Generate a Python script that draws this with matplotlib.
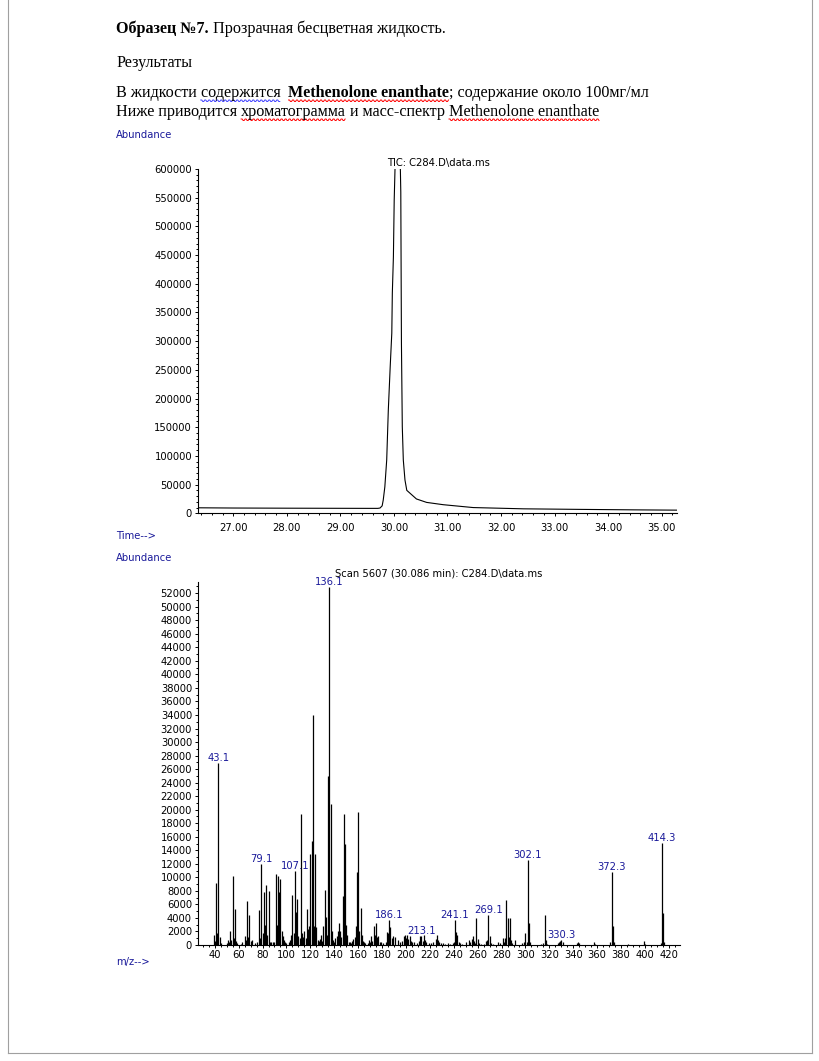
import numpy as np
import matplotlib
matplotlib.use("Agg")
import matplotlib.pyplot as plt
from matplotlib.ticker import MultipleLocator, FormatStrFormatter

W, H = 820, 1061

# хроматограмма (TIC), время в минутах
tic_time = [26.34, 27.0, 28.0, 29.0, 29.5, 29.70, 29.74, 29.78, 29.80, 29.83, 29.865, 29.895,
            29.93, 29.96, 29.97, 29.99, 30.005, 30.02, 30.07, 30.12, 30.128, 30.14, 30.156,
            30.175, 30.206, 30.24, 30.42, 30.61, 30.92, 31.48, 32.42, 33.5, 34.5, 35.28]
tic_abund = [9600, 9200, 8900, 8700, 8600, 8600, 9200, 13000, 23000, 46000, 93000, 180000,
             255000, 314000, 384000, 447000, 546000, 600000, 660000, 600000, 560000, 296800, 151000,
             92900, 58000, 40000, 25000, 19000, 15000, 10000, 7800, 6800, 6000, 5500]

# масс-спектр
mz = [39, 40, 41, 42, 43, 44, 45, 50, 51, 52, 53, 54, 55, 56, 57, 58, 59, 62, 63, 65,
      66, 67, 68, 69, 70, 71, 74, 75, 77, 78, 79, 80, 81, 82, 83, 84, 85, 86, 87, 89,
      90, 91, 92, 93, 94, 95, 96, 97, 98, 99, 100, 102, 103, 104, 105, 106, 107, 108, 109, 110,
      111, 112, 113, 114, 115, 116, 117, 118, 119, 120, 121, 122, 123, 124, 125, 126, 127, 128, 129, 130,
      131, 132, 133, 134, 135, 136, 137, 138, 139, 140, 141, 142, 143, 144, 145, 146, 147, 148, 149, 150,
      151, 152, 153, 154, 155, 156, 157, 158, 159, 160, 161, 162, 163, 164, 165, 166, 168, 169, 170, 171,
      172, 173, 174, 175, 176, 177, 178, 179, 181, 183, 184, 185, 186, 187, 188, 189, 191, 193, 195, 197,
      198, 199, 200, 201, 202, 203, 204, 205, 207, 209, 211, 212, 213, 214, 215, 216, 217, 219, 221, 223,
      225, 226, 227, 228, 229, 231, 233, 235, 237, 239, 240, 241, 242, 243, 244, 245, 247, 250, 253, 254,
      255, 256, 257, 258, 259, 260, 261, 263, 265, 267, 268, 269, 270, 271, 273, 277, 279, 281, 282, 283,
      284, 285, 286, 287, 288, 289, 291, 297, 299, 300, 301, 302, 303, 304, 313, 315, 316, 317, 318, 327,
      328, 329, 330, 331, 343, 344, 345, 357, 358, 371, 372, 373, 374, 386, 399, 400, 413, 414, 415, 416]
abund = [1500, 600, 9200, 1700, 26900, 1200, 300, 300, 700, 400, 2000, 700, 10200, 1000, 5300, 600, 300, 200, 500, 1300,
         700, 6500, 1200, 4400, 600, 800, 300, 500, 5200, 1000, 12000, 1800, 7800, 2900, 8900, 1500, 8000, 500, 400, 400,
         500, 10500, 3000, 10200, 7900, 9800, 2000, 1400, 800, 400, 300, 500, 700, 1500, 7400, 1800, 10900, 4900, 6800, 1300,
         1100, 19400, 1700, 1200, 2000, 1000, 5300, 2300, 2800, 13500, 15300, 34000, 2800, 13400, 2700, 800, 600, 900, 1500, 600,
         2800, 8200, 4100, 1500, 25000, 52900, 20800, 2100, 800, 500, 1000, 1300, 2000, 3300, 2000, 1200, 7300, 19400, 15000, 3000,
         1500, 500, 400, 300, 600, 900, 1200, 2800, 10800, 19600, 2000, 5400, 1500, 600, 500, 300, 300, 800, 400, 1300,
         600, 2800, 1500, 3200, 1200, 1300, 500, 400, 300, 500, 1900, 1800, 3700, 2600, 1000, 1300, 1200, 700, 400, 600,
         1300, 1500, 1000, 1500, 900, 1400, 600, 400, 500, 300, 600, 1300, 1300, 600, 1500, 700, 500, 300, 300, 500,
         900, 1500, 800, 500, 300, 300, 200, 300, 200, 300, 500, 3700, 1900, 1500, 500, 300, 200, 400, 700, 400,
         900, 1300, 600, 300, 4000, 900, 300, 200, 200, 600, 700, 4400, 1300, 300, 200, 400, 300, 1000, 400, 1100,
         6700, 4000, 1200, 4000, 700, 300, 800, 300, 400, 1700, 500, 12600, 3200, 500, 200, 300, 4500, 700, 200, 300,
         400, 600, 800, 500, 300, 500, 300, 500, 200, 500, 10800, 2800, 400, 200, 600, 200, 300, 15100, 4800, 500]

label_mz = [43, 79, 107, 136, 186, 213, 241, 269, 302, 330, 372, 414]
label_txt = ["43.1", "79.1", "107.1", "136.1", "186.1", "213.1", "241.1", "269.1",
             "302.1", "330.3", "372.3", "414.3"]

BLUE = "#1a1a9a"
CS_FONT = "DejaVu Sans"
CS_SIZE = 7.2

fig = plt.figure(figsize=(W / 100, H / 100), dpi=100)
fig.patch.set_facecolor("white")


def fx(x):
    return x / W


def fy(y):
    return 1 - y / H


# рамка страницы
for (x0, y0, x1, y1) in [(8, 0, 8, 1053), (812, 0, 812, 1053), (8, 1053, 812, 1053)]:
    fig.add_artist(plt.Line2D([fx(x0), fx(x1)], [fy(y0), fy(y1)], color="#a0a0a0", lw=0.8))

renderer = fig.canvas.get_renderer()


def text_width(s, weight, size):
    t = fig.text(0, 0, s, fontsize=size, fontweight=weight, family="Liberation Serif")
    w = t.get_window_extent(renderer).width
    t.remove()
    return w


def wave(x0, x1, y, color):
    xs = np.arange(x0, x1 + 0.1, 1.0)
    ys = y + np.where(np.arange(len(xs)) % 4 < 2, 0.0, 1.5)
    fig.add_artist(plt.Line2D(xs / W, 1 - ys / H, color=color, lw=0.7))


def run_line(x, y, pieces, size=11.6):
    for s, weight, wcol in pieces:
        fig.text(fx(x), fy(y), s, fontsize=size, fontweight=weight,
                 family="Liberation Serif", va="baseline", ha="left")
        adv = text_width(s + ".", weight, size) - text_width(".", weight, size)
        if wcol:
            ww = text_width(s.rstrip() + ".", weight, size) - text_width(".", weight, size)
            wave(x, x + ww, y + 3, wcol)
        x += adv


run_line(116, 33, [("Образец №7.", "bold", None), (" Прозрачная бесцветная жидкость.", "normal", None)])
run_line(116, 67, [("Результаты", "normal", None)])
run_line(116, 97, [("В жидкости ", "normal", None), ("содержится  ", "normal", "#4040ff"),
                   ("Methenolone enanthate", "bold", "red"),
                   ("; содержание около 100мг/мл", "normal", None)])
run_line(116, 116, [("Ниже приводится ", "normal", None), ("хроматограмма", "normal", "red"),
                    (" и масс-спектр ", "normal", None), ("Methenolone enanthate", "normal", "red")])


def style_axes(ax):
    for s in ["top", "right"]:
        ax.spines[s].set_visible(False)
    for s in ["left", "bottom"]:
        ax.spines[s].set_linewidth(0.8)
    ax.tick_params(which="both", direction="out", width=0.7, labelsize=CS_SIZE)
    ax.tick_params(which="major", length=2.5)
    ax.tick_params(which="minor", length=1.6)
    for lab in ax.get_xticklabels() + ax.get_yticklabels():
        lab.set_family(CS_FONT)


# --- хроматограмма ---
ax1 = fig.add_axes([fx(198), fy(513.3), (677 - 198) / W, (513.3 - 169) / H])
ax1.plot(tic_time, tic_abund, color="black", lw=0.8)
ax1.set_xlim(26.341, 35.286)
ax1.set_ylim(0, 600000)
ax1.xaxis.set_major_locator(MultipleLocator(1))
ax1.xaxis.set_minor_locator(MultipleLocator(0.2))
ax1.yaxis.set_major_locator(MultipleLocator(50000))
ax1.yaxis.set_minor_locator(MultipleLocator(10000))
ax1.xaxis.set_major_formatter(FormatStrFormatter("%.2f"))
ax1.yaxis.set_major_formatter(FormatStrFormatter("%d"))
style_axes(ax1)
ax1.tick_params(axis="x", pad=4.5)
ax1.tick_params(axis="y", pad=1.8)

fig.text(fx(438.5), fy(163), "TIC: C284.D\\data.ms", fontsize=CS_SIZE, family=CS_FONT,
         ha="center", va="center")
fig.text(fx(116), fy(135), "Abundance", fontsize=CS_SIZE, family=CS_FONT, color=BLUE,
         ha="left", va="center")
fig.text(fx(116), fy(536), "Time-->", fontsize=CS_SIZE, family=CS_FONT, color=BLUE,
         ha="left", va="center")

# --- масс-спектр ---
ax2 = fig.add_axes([fx(198), fy(945), (680 - 198) / W, (945 - 581.7) / H])
ax2.vlines(mz, 0, abund, color="black", lw=0.9)
ax2.set_xlim(26.0, 429.3)
ax2.set_ylim(0, 53700)
ax2.xaxis.set_major_locator(MultipleLocator(20))
ax2.xaxis.set_minor_locator(MultipleLocator(5))
ax2.yaxis.set_major_locator(MultipleLocator(2000))
ax2.yaxis.set_minor_locator(MultipleLocator(1000))
ax2.yaxis.set_major_formatter(FormatStrFormatter("%d"))
style_axes(ax2)
ax2.tick_params(axis="x", pad=0.8)
ax2.tick_params(axis="y", pad=1.8)

for m, s in zip(label_mz, label_txt):
    ax2.annotate(s, (m, abund[mz.index(m)]), xytext=(0, 0), textcoords="offset points",
                 ha="center", va="bottom", fontsize=CS_SIZE, family=CS_FONT, color=BLUE,
                 annotation_clip=False)

fig.text(fx(439), fy(574), "Scan 5607 (30.086 min): C284.D\\data.ms", fontsize=CS_SIZE,
         family=CS_FONT, ha="center", va="center")
fig.text(fx(116), fy(558), "Abundance", fontsize=CS_SIZE, family=CS_FONT, color=BLUE,
         ha="left", va="center")
fig.text(fx(116), fy(962), "m/z-->", fontsize=CS_SIZE, family=CS_FONT, color=BLUE,
         ha="left", va="center")

fig.savefig("out.png", dpi=100, facecolor="white")
